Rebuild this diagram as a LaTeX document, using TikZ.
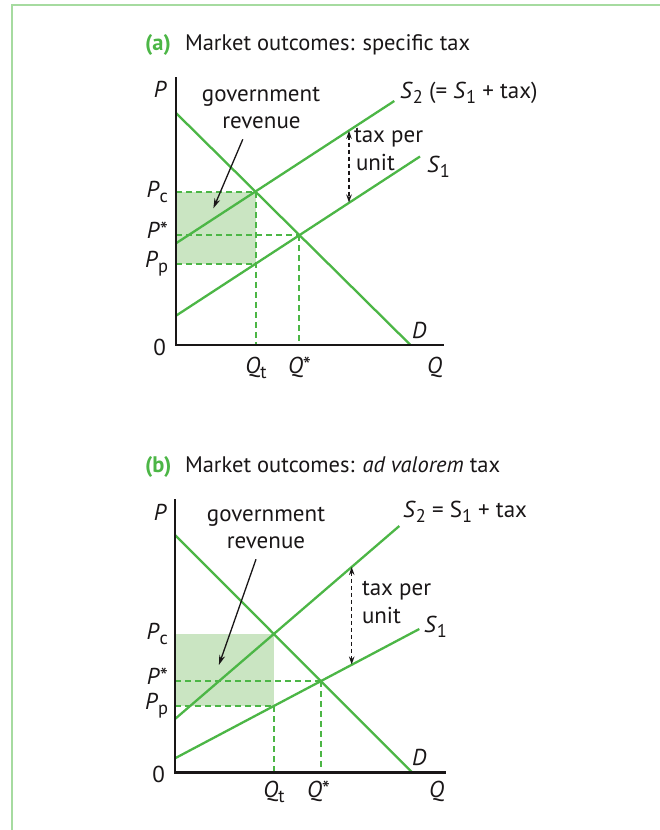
\documentclass[tikz,border=0pt]{standalone}
\usepackage{fontspec}
\setmainfont{PT Sans}
\usetikzlibrary{arrows.meta}
\definecolor{lg}{RGB}{76,182,70}
\definecolor{shadeg}{RGB}{202,229,194}
\definecolor{frameg}{RGB}{166,219,160}
\definecolor{ink}{RGB}{25,22,23}
\newcommand\lbl{\fontsize{23}{26}\selectfont}
\newcommand\ttl{\fontsize{22.5}{25}\selectfont}
\newcommand\lowsub[1]{\raisebox{-0.26em}{\scalebox{0.8}{#1}}}
\tikzset{
  curve/.style={draw=lg, line width=2.3pt},
  axisline/.style={draw=ink, line width=2.5pt},
  dsh/.style={draw=lg, line width=1.7pt, dash pattern=on 6pt off 4pt},
  shadebox/.style={fill=shadeg},
  taxarrow/.style={draw=ink, line width=1.3pt, dash pattern=on 4pt off 3pt, {Stealth[length=8pt,width=5.5pt]}-{Stealth[length=8pt,width=5.5pt]}},
  govarrow/.style={draw=ink, line width=1.3pt, -{Stealth[length=10pt,width=6pt]}},
  framel/.style={draw=frameg, line width=2.5pt},
  lab/.style={inner sep=0pt, outer sep=0pt, text=ink, font=\lbl},
  ttlab/.style={inner sep=0pt, outer sep=0pt, text=ink, font=\ttl}
}
\begin{document}
\begin{tikzpicture}[x=1pt,y=-1pt]
\useasboundingbox (0,0) rectangle (660,830);
% frame
\coordinate (frTR) at (660,5);
\coordinate (frTL) at (12,5);
\coordinate (frBL) at (12,830);
\draw[framel] (frTR) -- (frTL) -- (frBL);

% ================= panel (a) =================
\node[ttlab, anchor=base west] (tAa) at (145,50) {\color{lg}\bfseries (a)};
\node[ttlab, anchor=base west] (tAt) at (185,50) {Market outcomes: specific tax};

\coordinate (Oa) at (176,345);
\coordinate (Ya) at (176,77);
\coordinate (Xa) at (444,345);
\coordinate (Da1) at (176,113);
\coordinate (Da2) at (410.5,345);
\coordinate (S2a1) at (176,243.3);
\coordinate (S2a2) at (394.3,101);
\coordinate (S1a1) at (176,315.7);
\coordinate (S1a2) at (420,156.5);
\coordinate (Ca) at (256,192);
\coordinate (Ea) at (299,235);
\coordinate (Pa) at (256,264);
\coordinate (PcA) at (176,192);
\coordinate (PsA) at (176,235);
\coordinate (PpA) at (176,264);
\coordinate (QtA) at (256,345);
\coordinate (QsA) at (299,345);
\coordinate (TtopA) at (349,130.8);
\coordinate (TbotA) at (349,202.5);
\coordinate (GsA) at (242.8,139.3);
\coordinate (GtA) at (213.4,208.3);

\fill[shadebox] (PcA) rectangle (Pa);
\draw[dsh] (PcA) -- (Ca);
\draw[dsh] (PsA) -- (Ea);
\draw[dsh] (PpA) -- (Pa);
\draw[dsh] (Ca) -- (QtA);
\draw[dsh] (Ea) -- (QsA);
\draw[curve] (Da1) -- (Da2);
\draw[curve] (S2a1) -- (S2a2);
\draw[curve] (S1a1) -- (S1a2);
\draw[axisline] (Ya) -- (Oa) -- (Xa);
\draw[taxarrow] (TtopA) -- (TbotA);
\draw[govarrow] (GsA) -- (GtA);

\node[lab, anchor=base east] (PlabA) at (167,97) {\textit{P}};
\node[lab, anchor=base] (govA) at (261,101) {government};
\node[lab, anchor=base] (revA) at (261.5,128) {revenue};
\node[lab, anchor=base west] (S2labA) at (400,98) {\textit{S}\lowsub{2} (= \textit{S}\lowsub{1} + tax)};
\node[lab, anchor=base west] (S1labA) at (427,172) {\textit{S}\lowsub{1}};
\node[lab, anchor=base west] (tax1A) at (354,142) {tax per};
\node[lab, anchor=base west] (tax2A) at (356,170) {unit};
\node[lab, anchor=base east] (PcLA) at (168,197) {\textit{P}\lowsub{c}};
\node[lab, anchor=base east] (PsLA) at (168,238) {\textit{P}*};
\node[lab, anchor=base east] (PpLA) at (168,267) {\textit{P}\lowsub{p}};
\node[lab, anchor=base east] (zeroA) at (166,355) {0};
\node[lab, anchor=base] (QtLA) at (256,373) {\textit{Q}\lowsub{t}};
\node[lab, anchor=base west] (QsLA) at (288,373) {\textit{Q}*};
\node[lab, anchor=base west] (QLA) at (427,373) {\textit{Q}};
\node[lab, anchor=base west] (DLA) at (412,338) {\textit{D}};

% ================= panel (b) =================
\node[ttlab, anchor=base west] (tBb) at (145,472) {\color{lg}\bfseries (b)};
\node[ttlab, anchor=base west] (tBt) at (185,472) {Market outcomes: \textit{ad valorem} tax};

\coordinate (Ob) at (175,772.3);
\coordinate (Yb) at (175,499);
\coordinate (Xb) at (446,772.3);
\coordinate (Db1) at (175,535);
\coordinate (Db2) at (412,772.3);
\coordinate (S2b1) at (175,719);
\coordinate (S2b2) at (399.3,526);
\coordinate (S1b1) at (175,758.3);
\coordinate (S1b2) at (419.3,629);
\coordinate (Cb) at (274,634);
\coordinate (Eb) at (321,681);
\coordinate (Pb) at (274,706);
\coordinate (PcB) at (175,634);
\coordinate (PsB) at (175,681);
\coordinate (PpB) at (175,706);
\coordinate (QtB) at (274,772.3);
\coordinate (QsB) at (321,772.3);
\coordinate (TtopB) at (351.7,567);
\coordinate (TbotB) at (351.7,664.5);
\coordinate (GsB) at (256,559.3);
\coordinate (GtB) at (218.9,665);

\fill[shadebox] (PcB) rectangle (Pb);
\draw[dsh] (PsB) -- (Eb);
\draw[dsh] (PpB) -- (Pb);
\draw[dsh] (Pb) -- (QtB);
\draw[dsh] (Eb) -- (QsB);
\draw[curve] (Db1) -- (Db2);
\draw[curve] (S2b1) -- (S2b2);
\draw[curve] (S1b1) -- (S1b2);
\draw[axisline] (Yb) -- (Ob) -- (Xb);
\draw[taxarrow] (TtopB) -- (TbotB);
\draw[govarrow] (GsB) -- (GtB);

\node[lab, anchor=base east] (PlabB) at (167,520) {\textit{P}};
\node[lab, anchor=base] (govB) at (266,521) {government};
\node[lab, anchor=base] (revB) at (266,548) {revenue};
\node[lab, anchor=base west] (S2labB) at (403,517) {\textit{S}\lowsub{2} = S\lowsub{1} + tax};
\node[lab, anchor=base west] (S1labB) at (424,632) {\textit{S}\lowsub{1}};
\node[lab, anchor=base west] (tax1B) at (362,595) {tax per};
\node[lab, anchor=base west] (tax2B) at (362,623) {unit};
\node[lab, anchor=base east] (PcLB) at (168,639) {\textit{P}\lowsub{c}};
\node[lab, anchor=base east] (PsLB) at (168,684) {\textit{P}*};
\node[lab, anchor=base east] (PpLB) at (168,709) {\textit{P}\lowsub{p}};
\node[lab, anchor=base east] (zeroB) at (165,782) {0};
\node[lab, anchor=base] (QtLB) at (274,797) {\textit{Q}\lowsub{t}};
\node[lab, anchor=base west] (QsLB) at (307,797) {\textit{Q}*};
\node[lab, anchor=base west] (QLB) at (429,797) {\textit{Q}};
\node[lab, anchor=base west] (DLB) at (412,765) {\textit{D}};
\end{tikzpicture}
\end{document}
